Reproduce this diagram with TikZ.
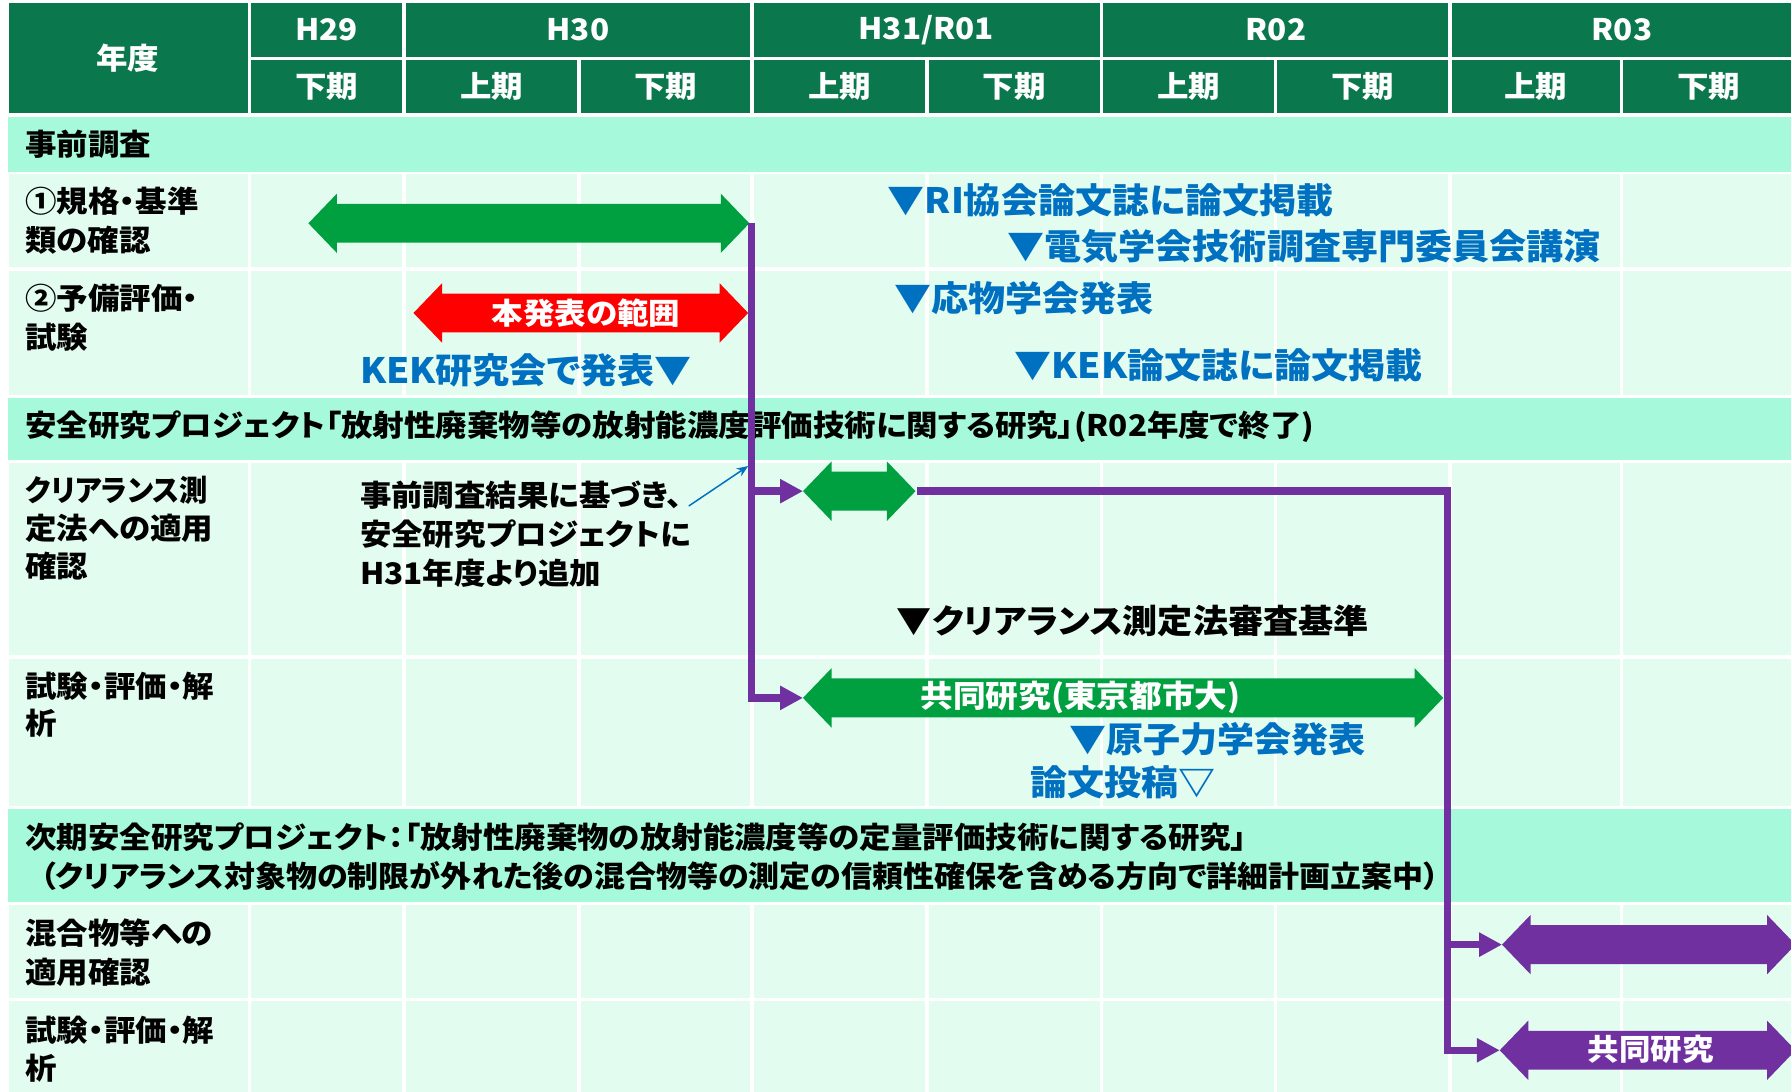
\documentclass[tikz,border=0pt]{standalone}
\usepackage{fontspec}
\setmainfont{Noto Sans CJK JP}[RawFeature=+palt, FakeStretch=1.06]
\usetikzlibrary{arrows.meta,calc}
\definecolor{hdr}{RGB}{10,119,77}
\definecolor{band}{RGB}{166,249,218}
\definecolor{cellc}{RGB}{226,252,240}
\definecolor{garr}{RGB}{0,160,64}
\definecolor{btext}{RGB}{0,112,192}
\definecolor{purp}{RGB}{112,48,160}
\definecolor{rarr}{RGB}{255,0,0}
\newcommand\DArr[4]{%
  \fill[#1] (#2,#4) -- ({#2+25},{#4-26}) -- ({#2+25},{#4-17}) -- ({#3-25},{#4-17}) -- ({#3-25},{#4-26}) -- (#3,#4)
    -- ({#3-25},{#4+26}) -- ({#3-25},{#4+17}) -- ({#2+25},{#4+17}) -- ({#2+25},{#4+26}) -- cycle;}
\begin{document}
\begin{tikzpicture}[x=1pt,y=-1pt,
  hw/.style={text=white, inner sep=0, font=\bfseries\fontsize{26}{30}\selectfont},
  lab/.style={anchor=west, inner sep=0, align=left, text=black, font=\bfseries\fontsize{26}{34}\selectfont},
  blu/.style={anchor=west, inner sep=0, text=btext, font=\bfseries\fontsize{30.6}{34}\selectfont},
  blk/.style={anchor=west, inner sep=0, text=black, font=\bfseries\fontsize{29}{34}\selectfont},
  onarr/.style={text=white, inner sep=0, font=\bfseries\fontsize{26}{30}\selectfont},
  pconn/.style={draw=purp, line width=6.5pt, line join=miter, -{Triangle[length=20pt,width=20pt]}},
  note/.style={draw=btext, line width=1.3pt, -{Stealth[length=10pt,width=8pt]}}]
\useasboundingbox (0,0) rectangle (1568,956);
\clip (0,0) rectangle (1568,956);
\fill[white] (0,0) rectangle (1568,956);
% header
\fill[hdr] (7.5,3) rectangle (217,99);
\foreach \xa/\xb in {220/352,355.5/657,660/963,966/1268,1271/1570}
  \fill[hdr] (\xa,3) rectangle (\xb,49.5);
\foreach \xa/\xb in {220/352,355.5/505.5,508.5/657,660/810,813/963,966/1115,1118/1268,1271/1418.5,1421/1570}
  \fill[hdr] (\xa,52.5) rectangle (\xb,99);
% bands
\fill[band] (7,102.5) rectangle (1570,150.3);
\fill[band] (7,348) rectangle (1570,402.5);
\fill[band] (7,708.5) rectangle (1570,789.5);
% body cells
\foreach \ya/\yb in {152.5/234,237/345.5,405/573.5,576.5/706,792/874,876.5/960}
  \foreach \xa/\xb in {7.5/217,220/352,355.5/505.5,508.5/657,660/810,813/963,966/1115,1118/1268,1271/1418.5,1421/1570}
    \fill[cellc] (\xa,\ya) rectangle (\xb,\yb);
% header texts
\node[hw] (nendo) at (112,51) {年度};
\node[hw] (y29) at (286,26.2) {H29};
\node[hw] (y30) at (506,26.2) {H30};
\node[hw] (y31) at (811,26.2) {H31/R01};
\node[hw] (y02) at (1117,26.2) {R02};
\node[hw] (y03) at (1420,26.2) {R03};
\node[hw] (s1) at (286,75.7) {下期};
\node[hw] (s2) at (430.5,75.7) {上期};
\node[hw] (s3) at (582.7,75.7) {下期};
\node[hw] (s4) at (735,75.7) {上期};
\node[hw] (s5) at (888,75.7) {下期};
\node[hw] (s6) at (1040.5,75.7) {上期};
\node[hw] (s7) at (1193,75.7) {下期};
\node[hw] (s8) at (1344.7,75.7) {上期};
\node[hw] (s9) at (1496,75.7) {下期};
% row labels
\node[lab] (b1) at (22,126.5) {事前調査};
\node[lab] (r1) at (22,193.5) {①規格・基準\\類の確認};
\node[lab] (r2) at (22,278) {②予備評価・\\試験};
\node[lab] (b2) at (22,373.5) {安全研究プロジェクト「放射性廃棄物等の放射能濃度評価技術に関する研究」(R02年度で終了)};
\node[lab, font=\bfseries\fontsize{26}{33.5}\selectfont] (r3) at (22,462.5) {\scalebox{0.9}[1]{クリアランス測}\\定法への適用\\確認};
\node[lab, font=\bfseries\fontsize{26}{32}\selectfont] (r4) at (22,617) {試験・評価・解\\析};
\node[lab, font=\bfseries\fontsize{26}{34.5}\selectfont] (b3) at (22,750) {次期安全研究プロジェクト：「放射性廃棄物の放射能濃度等の定量評価技術に関する研究」\\\hspace*{13pt}\scalebox{0.985}[1]{（クリアランス対象物の制限が外れた後の混合物等の測定の信頼性確保を含める方向で詳細計画立案中）}};
\node[lab] (r5) at (22,834) {混合物等への\\適用確認};
\node[lab, font=\bfseries\fontsize{26}{33}\selectfont] (r6) at (22,918.5) {試験・評価・解\\析};
% note
\node[lab] (nt) at (315,467.5) {事前調査結果に基づき、\\安全研究プロジェクトに\\H31年度より追加};
% blue texts
\node[blu] (t1) at (777,175) {▼RI協会論文誌に論文掲載};
\node[blu] (t2) at (882,216) {▼電気学会技術調査専門委員会講演};
\node[blu] (t3) at (783,261) {▼応物学会発表};
\node[blu] (t4) at (888,320) {▼KEK論文誌に論文掲載};
\node[blu] (t5) at (315,324) {KEK研究会で発表▼};
\node[blu] (t6) at (936,647) {▼原子力学会発表};
\node[blu] (t7) at (902,685) {論文投稿▽};
\node[blk] (t8) at (785,544) {▼クリアランス測定法審査基準};
% bars
\DArr{garr}{270}{656}{195.5}
\DArr{rarr}{362}{655}{274}
\DArr{garr}{703}{801.5}{430}
\DArr{garr}{703}{1263.5}{611}
\DArr{purp}{1315}{1572}{827}
\DArr{purp}{1313}{1572}{919.5}
\node[onarr] (a1) at (513,274) {本発表の範囲};
\node[onarr, font=\bfseries\fontsize{27}{30}\selectfont] (a2) at (946,611) {共同研究(東京都市大)};
\node[onarr] (a3) at (1445,919) {共同研究};
% connector points
\coordinate (j1) at (658,195.5);
\coordinate (g2L) at (703,430);
\coordinate (g2R) at (803,430);
\coordinate (g3L) at (703,611);
\coordinate (j2) at (1267,430);
\coordinate (p1L) at (1315,827);
\coordinate (p2L) at (1313,919.5);
\coordinate (ns) at (603,443);
\coordinate (ne) at (655,408);
\draw[pconn] (j1) |- (g3L);
\draw[pconn] (j1 |- g2L) -- (g2L);
\draw[pconn] (g2R) -- (j2) |- (p2L);
\draw[pconn] (j2 |- p1L) -- (p1L);
\draw[note] (ns) -- (ne);
\end{tikzpicture}
\end{document}
